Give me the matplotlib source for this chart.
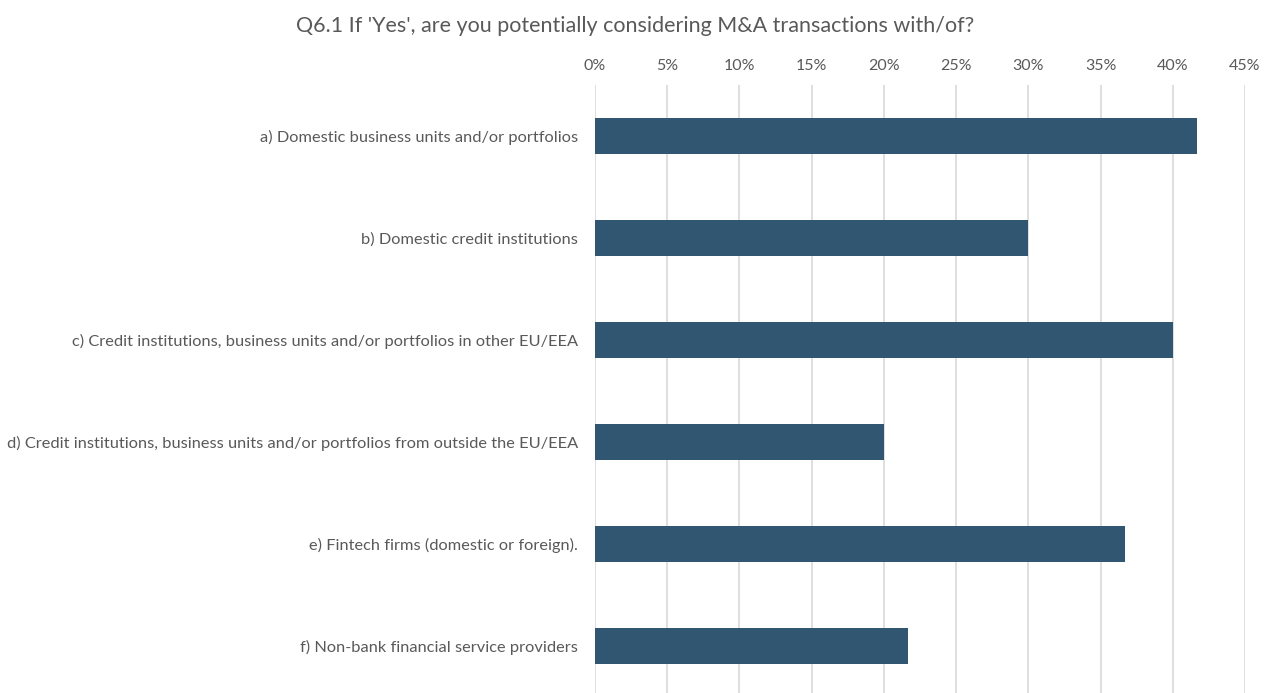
import matplotlib.pyplot as plt
from matplotlib.ticker import PercentFormatter

plt.rcParams['font.family'] = ['Lato', 'DejaVu Sans']

categories = [
    "a) Domestic business units and/or portfolios",
    "b) Domestic credit institutions",
    "c) Credit institutions, business units and/or portfolios in other EU/EEA",
    "d) Credit institutions, business units and/or portfolios from outside the EU/EEA",
    "e) Fintech firms (domestic or foreign).",
    "f) Non-bank financial service providers",
]
values = [41.67, 30.0, 40.0, 20.0, 36.67, 21.67]
ticks = [0, 5, 10, 15, 20, 25, 30, 35, 40, 45]

text_color = "#595959"
bar_color = "#305672"

fig = plt.figure(figsize=(12.71, 6.93), dpi=100)
ax = fig.add_axes([595 / 1271, -4 / 693, 650 / 1271, 612 / 693])

ax.barh(range(len(categories)), values, height=0.35, color=bar_color, zorder=3)
ax.set_ylim(len(categories) - 0.5, -0.5)
ax.set_xlim(0, 45)
ax.set_xticks(ticks)
ax.xaxis.set_major_formatter(PercentFormatter(decimals=0))
ax.xaxis.tick_top()
ax.set_yticks(range(len(categories)))
ax.set_yticklabels(categories)
ax.tick_params(axis="x", length=0, colors=text_color, labelsize=11.5, pad=9)
ax.tick_params(axis="y", length=0, colors=text_color, labelsize=11.8, pad=12)
ax.grid(axis="x", color="#d9d9d9", linewidth=1.2, zorder=0)
for s in ax.spines.values():
    s.set_visible(False)

fig.text(0.5, 1 - 26 / 693, "Q6.1 If 'Yes', are you potentially considering M&A transactions with/of?",
         ha="center", va="center", fontsize=15.5, color=text_color)

fig.savefig("out.png", dpi=100)
